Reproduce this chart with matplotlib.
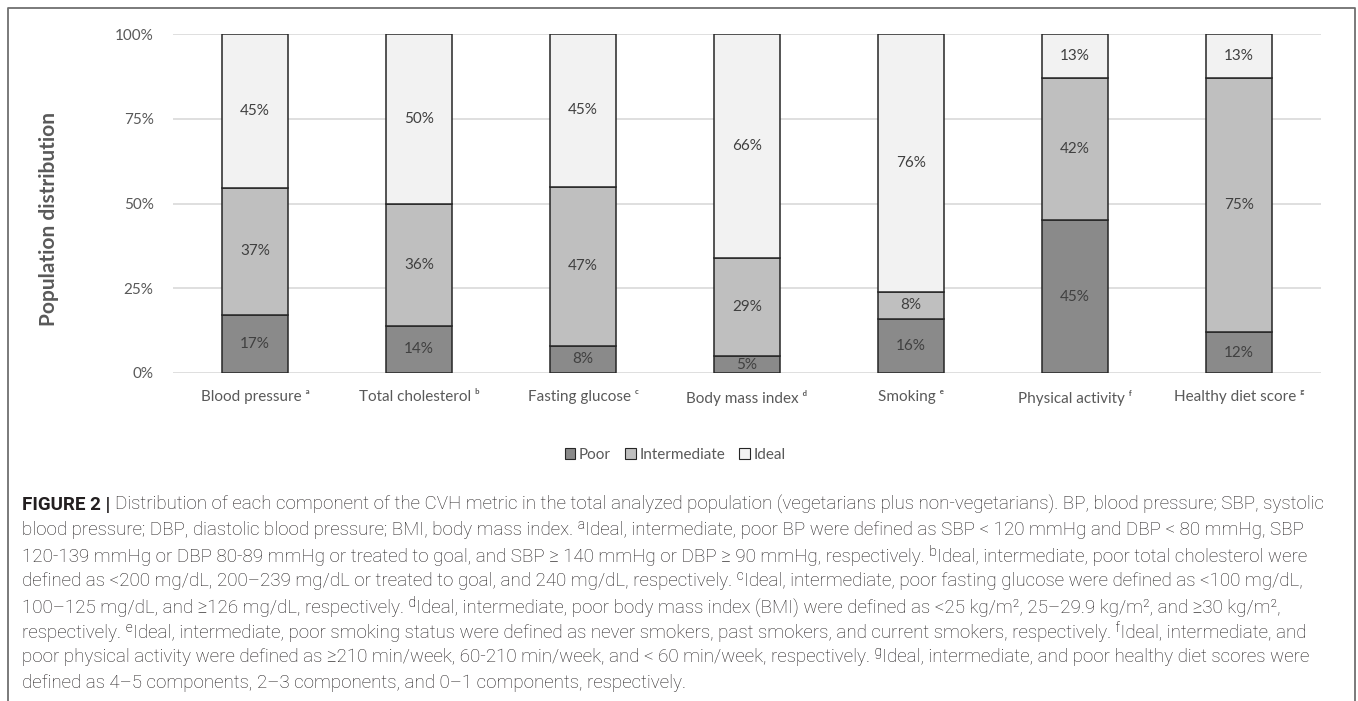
import matplotlib
matplotlib.use("Agg")
import matplotlib.pyplot as plt
from matplotlib.patches import Patch
from matplotlib.lines import Line2D
from matplotlib import font_manager
import numpy as np

W, H = 1358, 701

categories = ["Blood pressure ᵃ", "Total cholesterol ᵇ", "Fasting glucose ᶜ",
              "Body mass index ᵈ", "Smoking ᵉ", "Physical activity ᶠ",
              "Healthy diet score ᵍ"]
poor = [17, 14, 8, 5, 16, 45, 12]
intermediate = [37, 36, 47, 29, 8, 42, 75]
ideal = [45, 50, 45, 66, 76, 13, 13]
series_names = ["Poor", "Intermediate", "Ideal"]
yticks = [0, 0.25, 0.5, 0.75, 1.0]
ytick_labels = ["0%", "25%", "50%", "75%", "100%"]

caption_bold = "FIGURE 2 | "
caption_lines = [
    "Distribution of each component of the CVH metric in the total analyzed population (vegetarians plus non-vegetarians). BP, blood pressure; SBP, systolic",
    "blood pressure; DBP, diastolic blood pressure; BMI, body mass index. ᵃIdeal, intermediate, poor BP were defined as SBP < 120 mmHg and DBP < 80 mmHg, SBP",
    "120-139 mmHg or DBP 80-89 mmHg or treated to goal, and SBP ≥ 140 mmHg or DBP ≥ 90 mmHg, respectively. ᵇIdeal, intermediate, poor total cholesterol were",
    "defined as <200 mg/dL, 200–239 mg/dL or treated to goal, and 240 mg/dL, respectively. ᶜIdeal, intermediate, poor fasting glucose were defined as <100 mg/dL,",
    "100–125 mg/dL, and ≥126 mg/dL, respectively. ᵈIdeal, intermediate, poor body mass index (BMI) were defined as <25 kg/m², 25–29.9 kg/m², and ≥30 kg/m²,",
    "respectively. ᵉIdeal, intermediate, poor smoking status were defined as never smokers, past smokers, and current smokers, respectively. ᶠIdeal, intermediate, and",
    "poor physical activity were defined as ≥210 min/week, 60-210 min/week, and < 60 min/week, respectively. ᵍIdeal, intermediate, and poor healthy diet scores were",
    "defined as 4–5 components, 2–3 components, and 0–1 components, respectively.",
]

fonts = font_manager.fontManager.ttflist
installed = {f.name for f in fonts}


def has_bold(name):
    return any(f.name == name and f.weight in (700, "bold") for f in fonts)


chart_font = ["Lato", "DejaVu Sans"]
label_font = "Lato" if has_bold("Lato") else "Open Sans"
cap_font = ["Liberation Sans Narrow" if "Liberation Sans Narrow" in installed else "Roboto",
            "DejaVu Sans"]
plt.rcParams["font.family"] = chart_font

colors = ["#8a8a8a", "#bfbfbf", "#f2f2f2"]
edge = "#262626"
txt = "#404040"

fig = plt.figure(figsize=(W / 100, H / 100), dpi=100)
ax = fig.add_axes([173 / W, 1 - 373 / H, (1321 - 173) / W, (373 - 34) / H])

x = np.arange(len(categories))
data = np.array([poor, intermediate, ideal], dtype=float)
share = data / data.sum(axis=0)  # 100% stacked, as in Excel
bottom = np.zeros(len(categories))
for i, name in enumerate(series_names):
    ax.bar(x, share[i], 0.4, bottom=bottom, color=colors[i], edgecolor=edge,
           linewidth=1.1, label=name, zorder=3)
    for xi, b, h, v in zip(x, bottom, share[i], data[i]):
        ax.text(xi, b + h / 2, f"{int(v)}%", ha="center", va="center",
                fontsize=11, color=txt, zorder=4)
    bottom += share[i]

ax.set_xlim(-0.5, len(categories) - 0.5)
ax.set_ylim(0, 1)
ax.set_yticks(yticks)
ax.set_yticklabels(ytick_labels)
ax.set_xticks(x)
ax.set_xticklabels(categories)
ax.tick_params(length=0, labelsize=11, labelcolor="#595959")
ax.tick_params(axis="y", pad=14)
ax.tick_params(axis="x", pad=12)
ax.grid(axis="y", color="#d9d9d9", linewidth=1.2, zorder=0)
for s in ax.spines.values():
    s.set_visible(False)
ax.set_ylabel("Population distribution", fontsize=15, fontweight="bold",
              family=[label_font, "DejaVu Sans"], color="#595959", labelpad=0)
ax.yaxis.set_label_coords((59 - 173) / (1321 - 173), (373 - 219) / (373 - 34))

handles = [Patch(facecolor=c, edgecolor=edge, linewidth=0.8) for c in colors]
fig.legend(handles, series_names, loc="center", bbox_to_anchor=(675 / W, 1 - 455 / H),
           ncol=3, frameon=False, fontsize=11, handlelength=0.7, handleheight=0.7,
           handletextpad=0.25, columnspacing=0.9, labelcolor="#595959")

# frame round the figure (open at the bottom)
fig.add_artist(Line2D([8 / W, 8 / W, 1355 / W, 1355 / W], [0, 1 - 8 / H, 1 - 8 / H, 0],
                      transform=fig.transFigure, color="#6f6f6f", linewidth=1.3))

# caption
y0, step, x0 = 505, 25.4, 22
texts = []
bold = fig.text(x0 / W, 1 - y0 / H, caption_bold, fontsize=12, fontweight="bold",
                family=cap_font, va="center", ha="left", color="#231f20")
for i, line in enumerate(caption_lines):
    t = fig.text(x0 / W, 1 - (y0 + i * step) / H, line, fontsize=12, family=cap_font,
                 va="center", ha="left", color="#231f20", fontweight="light")
    texts.append(t)

r = fig.canvas.get_renderer()
w1 = bold.get_window_extent(r).width + texts[0].get_window_extent(r).width
w2 = texts[1].get_window_extent(r).width
size = 12 * min(1307 / w2, 1296 / w1)
bold.set_fontsize(size)
for t in texts:
    t.set_fontsize(size)
bw = bold.get_window_extent(r).width
texts[0].set_position(((x0 + bw) / W, 1 - y0 / H))

fig.savefig("out.png", dpi=100)
